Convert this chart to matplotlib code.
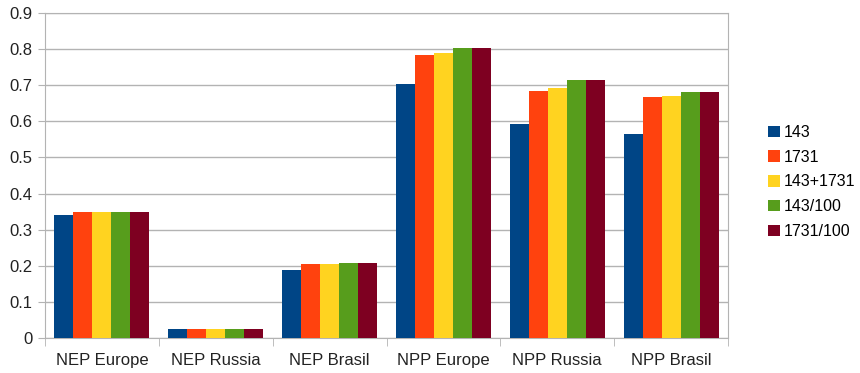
import numpy as np
import matplotlib
matplotlib.use("Agg")
import matplotlib.pyplot as plt

plt.rcParams['font.family'] = ['Liberation Sans', 'DejaVu Sans']

categories = ["NEP Europe", "NEP Russia", "NEP Brasil", "NPP Europe", "NPP Russia", "NPP Brasil"]
series_names = ["143", "1731", "143+1731", "143/100", "1731/100"]
s143 = [0.342, 0.026, 0.188, 0.704, 0.593, 0.565]
s1731 = [0.348, 0.026, 0.206, 0.783, 0.685, 0.667]
s143_1731 = [0.348, 0.026, 0.206, 0.789, 0.693, 0.669]
s143_100 = [0.349, 0.026, 0.208, 0.802, 0.715, 0.680]
s1731_100 = [0.349, 0.026, 0.208, 0.802, 0.715, 0.680]
colors = ["#004586", "#ff420e", "#ffd320", "#579d1c", "#7e0021"]

fig = plt.figure(figsize=(8.6, 3.73), dpi=100)
ax = fig.add_axes([45 / 860, 35 / 373, 683 / 860, 325 / 373])

x = np.arange(len(categories))
w = 0.167
all_series = [s143, s1731, s143_1731, s143_100, s1731_100]
for i, (vals, name, c) in enumerate(zip(all_series, series_names, colors)):
    ax.bar(x + (i - 2) * w, vals, w, color=c, label=name, zorder=3)

ax.set_xlim(-0.5, len(categories) - 0.5)
ax.set_ylim(0, 0.9)
ax.set_yticks(np.arange(0, 0.91, 0.1))
ax.set_yticklabels(["0"] + ["%.1f" % v for v in np.arange(0.1, 0.91, 0.1)])
ax.set_xticks(x)
ax.set_xticklabels(categories)
ax.set_xticks(np.arange(-0.5, len(categories)), minor=True)
ax.tick_params(axis='x', which='major', length=0, pad=11, labelsize=12, colors='#222222')
ax.tick_params(axis='x', which='minor', length=6, color='#b3b3b3', direction='out')
ax.tick_params(axis='y', length=5, color='#b3b3b3', labelcolor='#222222', labelsize=12, pad=4)
ax.grid(axis='y', color='#b3b3b3', linewidth=1, zorder=0)
for s in ax.spines.values():
    s.set_color('#b3b3b3')

ax.legend(loc='center left', bbox_to_anchor=(1.038, 0.48), frameon=False,
          handlelength=0.7, handleheight=0.7, handletextpad=0.25,
          labelspacing=0.62, fontsize=11.5)

fig.savefig("out.png", dpi=100)
